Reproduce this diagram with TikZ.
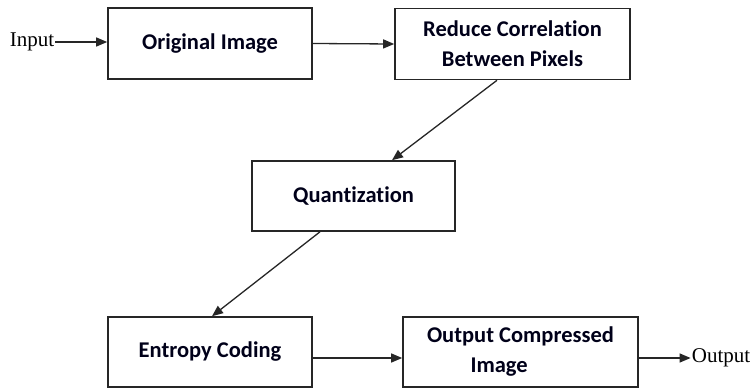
\documentclass[tikz,border=0pt]{standalone}
\usepackage{fontspec}
\setmainfont[Ligatures=CommonOff]{Carlito}
\newfontfamily\lblfont{Liberation Serif}
\usetikzlibrary{arrows.meta}
\tikzset{
  procbox/.style={draw=black!85, line width=1.6pt, rectangle, inner sep=0pt,
    font=\fontsize{22.5}{30}\selectfont\bfseries, text=black!90!blue, align=center},
  flow/.style={line width=1.3pt, draw=black!85, -{Triangle[length=11pt,width=9pt]}},
  lbl/.style={font=\lblfont\fontsize{21}{24}\selectfont, inner sep=1pt}
}
\begin{document}
\begin{tikzpicture}[x=1pt,y=-1pt]
\useasboundingbox (0,0) rectangle (753,388);
\node[procbox, minimum width=204pt, minimum height=71pt] (b1) at (210,43.5) {Original Image};
\node[procbox, minimum width=235pt, minimum height=71pt] (b2) at (512.5,44) {Reduce Correlation\\Between Pixels};
\node[procbox, minimum width=203pt, minimum height=70pt] (b3) at (353.5,196) {Quantization};
\node[procbox, minimum width=204pt, minimum height=70pt] (b4) at (210,352) {Entropy Coding};
\node[procbox, minimum width=235pt, minimum height=70pt] (b5) at (520.5,352) {Output Compressed\\Image\hspace*{1.9em}};
\node[lbl] (in) at (32,42) {Input};
\node[lbl] (out) at (721,358) {Output};
\draw[flow] (in.east) -- (in.east -| b1.west);
\draw[flow] (b1.east) -- (b2.west);
\draw[flow] ([xshift=-15.5pt]b2.south) -- ([xshift=38.5pt]b3.north);
\draw[flow] ([xshift=-33.5pt]b3.south) -- ([xshift=2pt]b4.north);
\draw[flow] ([yshift=-6pt]b4.east) -- ([yshift=-6pt]b5.west);
\draw[flow] ([yshift=-6pt]b5.east) -- (out.west);
\end{tikzpicture}
\end{document}
